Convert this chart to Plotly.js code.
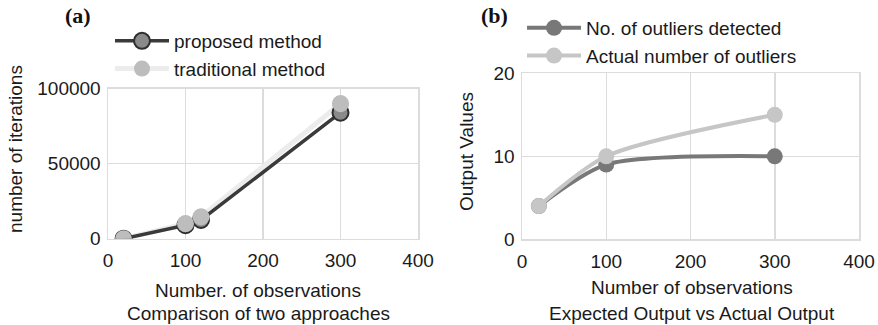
<!DOCTYPE html>
<html>
<head>
<meta charset="utf-8">
<script src="https://cdn.plot.ly/plotly-3.0.1.min.js"></script>
<style>html,body{margin:0;padding:0;background:#fff;}#chart{width:878px;height:325px;}</style>
</head>
<body>
<div id="chart"></div>
<script>
// Panel (a)
var obsA = [20, 100, 120, 300];
var proposed = [0, 9000, 12500, 84000];
var traditional = [0, 10000, 14500, 90000];
// Panel (b)
var obsB = [20, 100, 300];
var detected = [4, 9, 10];
var actual = [4, 10, 15];

var xTicks = [0, 100, 200, 300, 400];
var yTicksA = [0, 50000, 100000];
var yTicksB = [0, 10, 20];

var FONT = 'Liberation Sans, Arial, sans-serif';
var FS = 19;
var TXT = '#1a1a1a';
var GRID = '#dcdcdc';

var traces = [
  { x: obsA, y: traditional, mode: 'lines+markers', name: 'traditional method',
    line: {color: '#ececec', width: 5}, marker: {color: '#bdbdbd', size: 17},
    xaxis: 'x', yaxis: 'y', legend: 'legend', legendrank: 2 },
  { x: obsA, y: proposed, mode: 'lines+markers', name: 'proposed method',
    line: {color: '#3a3a3a', width: 3.5}, marker: {color: '#8a8a8a', size: 16, line: {color: '#2e2e2e', width: 2}},
    xaxis: 'x', yaxis: 'y', legend: 'legend', legendrank: 1 },
  { x: obsA, y: traditional, mode: 'markers', name: 'traditional method', showlegend: false,
    marker: {color: '#bdbdbd', size: 17}, xaxis: 'x', yaxis: 'y' },
  { x: obsB, y: detected, mode: 'lines+markers', name: 'No. of outliers detected',
    line: {color: '#787878', width: 4, shape: 'spline', smoothing: 0.75}, marker: {color: '#787878', size: 16},
    xaxis: 'x2', yaxis: 'y2', legend: 'legend2' },
  { x: obsB, y: actual, mode: 'lines+markers', name: 'Actual number of outliers',
    line: {color: '#c6c6c6', width: 4, shape: 'spline', smoothing: 0.75}, marker: {color: '#c6c6c6', size: 16},
    xaxis: 'x2', yaxis: 'y2', legend: 'legend2' }
];

function axis(domain, range, ticks, anchor) {
  return {
    domain: domain, range: range, tickvals: ticks, ticktext: ticks.map(String),
    showgrid: true, gridcolor: GRID, gridwidth: 1.5,
    showline: true, linecolor: GRID, linewidth: 1.5, mirror: true,
    zeroline: false, ticks: '', anchor: anchor, fixedrange: true,
    tickfont: {family: FONT, size: FS, color: TXT}
  };
}

function ann(text, x, y, extra) {
  return Object.assign({text: text, x: x/878, y: 1 - y/325, xref: 'paper', yref: 'paper',
    xanchor: 'center', yanchor: 'middle', showarrow: false}, extra || {});
}

var serif = {font: {family: 'Liberation Serif, Times New Roman, serif', size: 22, color: '#111'}};

var layout = {
  width: 878, height: 325,
  margin: {l: 0, r: 0, t: 0, b: 0},
  paper_bgcolor: '#fff', plot_bgcolor: '#fff',
  font: {family: FONT, size: FS, color: TXT},
  xaxis: Object.assign(axis([108/878, 418/878], [0, 400], xTicks, 'y'), {ticklabelstandoff: 4}),
  yaxis: Object.assign(axis([1 - 238.7/325, 1 - 88.7/325], [0, 100000], yTicksA, 'x'), {ticklabelstandoff: 2}),
  xaxis2: Object.assign(axis([522/878, 859/878], [0, 400], xTicks, 'y2'), {ticklabelstandoff: 4}),
  yaxis2: Object.assign(axis([1 - 239.3/325, 1 - 73.3/325], [0, 20], yTicksB, 'x2'), {ticklabelstandoff: 2}),
  legend: {x: 110/878, y: 1 - 22/325, xanchor: 'left', yanchor: 'top', bgcolor: 'rgba(0,0,0,0)',
    itemwidth: 54, font: {family: FONT, size: FS, color: TXT}, traceorder: 'normal'},
  legend2: {x: 522/878, y: 1 - 9/325, xanchor: 'left', yanchor: 'top', bgcolor: 'rgba(0,0,0,0)',
    itemwidth: 54, font: {family: FONT, size: FS, color: TXT}, traceorder: 'normal'},
  showlegend: true,
  annotations: [
    ann('<b>(a)</b>', 78, 15, serif),
    ann('<b>(b)</b>', 494, 15, serif),
    ann('number of iterations', 15, 149, {textangle: -90}),
    ann('Output Values', 467, 152, {textangle: -90}),
    ann('Number. of observations', 258, 290),
    ann('Comparison of two approaches', 258, 313),
    ann('Number of observations', 692, 287),
    ann('Expected Output vs Actual Output', 692, 313)
  ]
};

Plotly.newPlot('chart', traces, layout, {staticPlot: true, displayModeBar: false});
</script>
</body>
</html>
